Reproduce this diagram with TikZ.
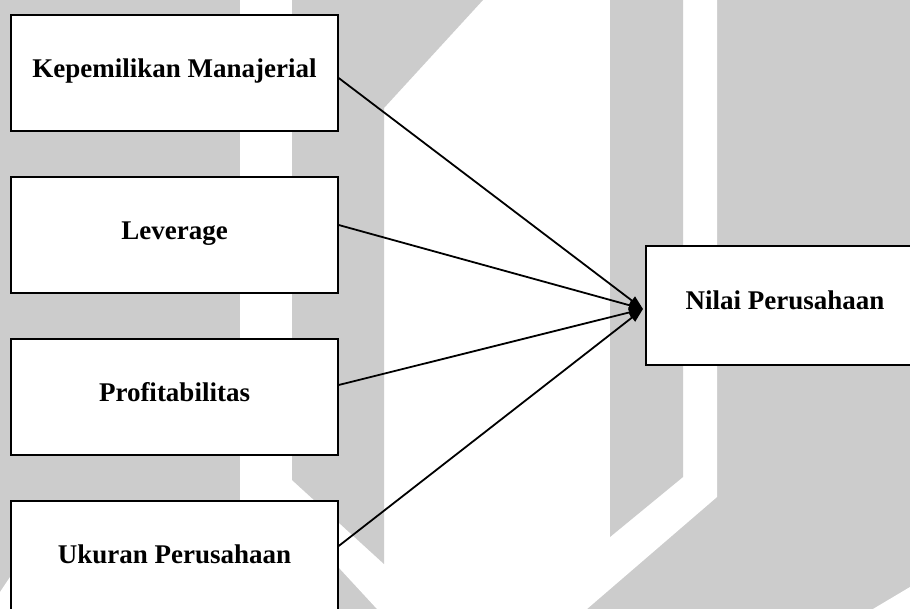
\documentclass[tikz,border=0pt]{standalone}
\usepackage{fontspec}
\setmainfont{Liberation Serif}
\usetikzlibrary{arrows.meta}
\definecolor{bggray}{RGB}{204,204,204}
\begin{document}
\begin{tikzpicture}[x=1pt,y=-1pt,
  box/.style={draw=black, line width=1.4pt, fill=white, minimum width=327pt, minimum height=116pt,
    inner sep=0pt, font=\fontsize{27}{32}\selectfont\bfseries, text height=18pt, text depth=9.5pt, align=center},
  link/.style={line width=1.8pt, -{Triangle[length=14pt,width=10pt]}}]
\useasboundingbox (0,0) rectangle (910,609);
% background watermark
\fill[bggray] (0,0) rectangle (910,609);
\fill[white] (240,0) -- (717,0) -- (717,497) -- (587,609) -- (377,609) -- (292,517) -- (292,609) -- (240,609) -- cycle;
\fill[white] (0,592) -- (20,562) -- (20,609) -- (0,609) -- cycle;
\fill[white] (910,587) -- (910,609) -- (873,609) -- cycle;
\fill[bggray] (292,0) -- (483,0) -- (384,108) -- (384,564) -- (292,480) -- cycle;
\fill[bggray] (610,0) -- (683,0) -- (683,477) -- (610,537) -- cycle;
% boxes
\node[box] (km) at (174.5,73) {Kepemilikan Manajerial};
\node[box] (lev) at (174.5,235) {Leverage};
\node[box] (prof) at (174.5,397) {Profitabilitas};
\node[box] (uk) at (174.5,559) {Ukuran Perusahaan};
\node[box, minimum width=278pt, minimum height=119pt] (nilai) at (785,305.5) {Nilai Perusahaan};
\coordinate (tip) at (643,309);
% connectors
\draw[link] ([yshift=-5pt]km.east) -- (tip);
\draw[link] ([yshift=10pt]lev.east) -- (tip);
\draw[link] ([yshift=12pt]prof.east) -- (tip);
\draw[link] ([yshift=13pt]uk.east) -- (tip);
\end{tikzpicture}
\end{document}
